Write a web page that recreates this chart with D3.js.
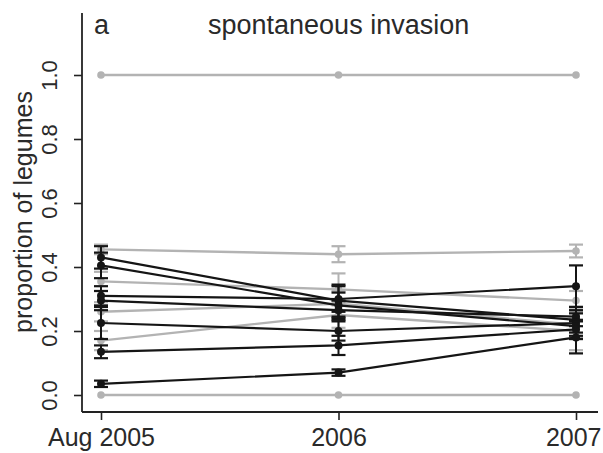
<!DOCTYPE html>
<html>
<head>
<meta charset="utf-8">
<script src="https://cdn.jsdelivr.net/npm/d3@7"></script>
<style>
  html, body { margin: 0; padding: 0; background: #fff; }
  svg { display: block; font-family: "Liberation Sans", Arial, sans-serif; }
</style>
</head>
<body>
<svg id="chart" width="603" height="453"></svg>
<script>
// Survey times on the x axis
const times = ["Aug 2005", "2006", "2007"];
const yTicks = [0, 0.2, 0.4, 0.6, 0.8, 1.0];

// Plots with legume proportion that changed (dark lines): mean and half-width of error bar
const darkMeans = [
  [0.430, 0.295, 0.235],
  [0.405, 0.280, 0.215],
  [0.310, 0.300, 0.340],
  [0.295, 0.265, 0.245],
  [0.225, 0.200, 0.225],
  [0.135, 0.155, 0.205],
  [0.035, 0.070, 0.180]
];
const darkErrors = [
  [0.035, 0.050, 0.040],
  [0.040, 0.040, 0.040],
  [0.030, 0.040, 0.065],
  [0.030, 0.030, 0.030],
  [0.050, 0.030, 0.040],
  [0.020, 0.030, 0.030],
  [0.010, 0.010, 0.050]
];

// Reference plots (light lines)
const lightMeans = [
  [1.000, 1.000, 1.000],
  [0.000, 0.000, 0.000],
  [0.455, 0.440, 0.450],
  [0.355, 0.330, 0.295],
  [0.260, 0.285, 0.220],
  [0.170, 0.250, 0.200]
];
const lightErrors = [
  [0.000, 0.000, 0.000],
  [0.000, 0.000, 0.000],
  [0.015, 0.025, 0.020],
  [0.030, 0.050, 0.030],
  [0.030, 0.040, 0.040],
  [0.030, 0.040, 0.060]
];

const svg = d3.select("#chart");
const W = 603;
const axisX = 82, axisY = 412;

const x = d3.scalePoint().domain(times).range([101, 576]);
const y = d3.scaleLinear().domain([0, 1]).range([395, 75]);

const DARK = "#151515", LIGHT = "#b3b3b3", TEXT = "#2a2a2a";

// Axes drawn Stata-style: left and bottom lines only
const yAxis = svg.append("g").attr("transform", `translate(${axisX},0)`)
  .call(d3.axisLeft(y).tickValues(yTicks).tickSize(8).tickFormat(d3.format(".1f")));
yAxis.select(".domain").remove();
yAxis.selectAll(".tick line").attr("stroke", "#222").attr("stroke-width", 1.6);
yAxis.selectAll(".tick text")
  .attr("x", null).attr("dy", null)
  .attr("transform", "translate(-25,0) rotate(-90)")
  .attr("text-anchor", "middle")
  .attr("font-size", 22).attr("fill", TEXT);

const xAxis = svg.append("g").attr("transform", `translate(0,${axisY})`)
  .call(d3.axisBottom(x).tickSize(8));
xAxis.select(".domain").remove();
xAxis.selectAll(".tick line").attr("stroke", "#222").attr("stroke-width", 1.6);
xAxis.selectAll(".tick text").attr("y", 34).attr("dy", null)
  .attr("font-size", 25).attr("fill", TEXT);
// keep the last label inside the canvas
xAxis.selectAll(".tick text").filter(d => d === times[times.length - 1])
  .attr("text-anchor", "end").attr("x", W - 2 - x(times[times.length - 1]));

svg.append("line").attr("x1", axisX).attr("x2", axisX).attr("y1", 13).attr("y2", axisY)
  .attr("stroke", "#222").attr("stroke-width", 1.8);
svg.append("line").attr("x1", axisX).attr("x2", 598).attr("y1", axisY).attr("y2", axisY)
  .attr("stroke", "#222").attr("stroke-width", 1.8);

// Axis title and panel title
svg.append("text")
  .attr("transform", `translate(32,212) rotate(-90)`)
  .attr("text-anchor", "middle").attr("font-size", 25).attr("fill", TEXT)
  .text("proportion of legumes");
svg.append("text").attr("x", 94).attr("y", 34)
  .attr("font-size", 27).attr("fill", TEXT).text("a");
svg.append("text").attr("x", 208).attr("y", 34)
  .attr("font-size", 27).attr("fill", TEXT).text("spontaneous invasion");

const line = d3.line().x((d, i) => x(times[i])).y(d => y(d));

function drawGroup(means, errors, color, lw, r) {
  const g = svg.append("g");
  means.forEach((m, si) => {
    g.append("path").datum(m).attr("d", line)
      .attr("fill", "none").attr("stroke", color).attr("stroke-width", lw);
    m.forEach((v, i) => {
      const e = errors[si][i];
      const cx = x(times[i]);
      if (e > 0) {
        g.append("line").attr("x1", cx).attr("x2", cx)
          .attr("y1", y(v - e)).attr("y2", y(v + e))
          .attr("stroke", color).attr("stroke-width", 2);
        [v - e, v + e].forEach(c => {
          g.append("line").attr("x1", cx - 7).attr("x2", cx + 7)
            .attr("y1", y(c)).attr("y2", y(c))
            .attr("stroke", color).attr("stroke-width", 2.2);
        });
      }
      g.append("circle").attr("cx", cx).attr("cy", y(v)).attr("r", r).attr("fill", color);
    });
  });
}

drawGroup(lightMeans, lightErrors, LIGHT, 2.4, 3.8);
drawGroup(darkMeans, darkErrors, DARK, 2.2, 4);
</script>
</body>
</html>
